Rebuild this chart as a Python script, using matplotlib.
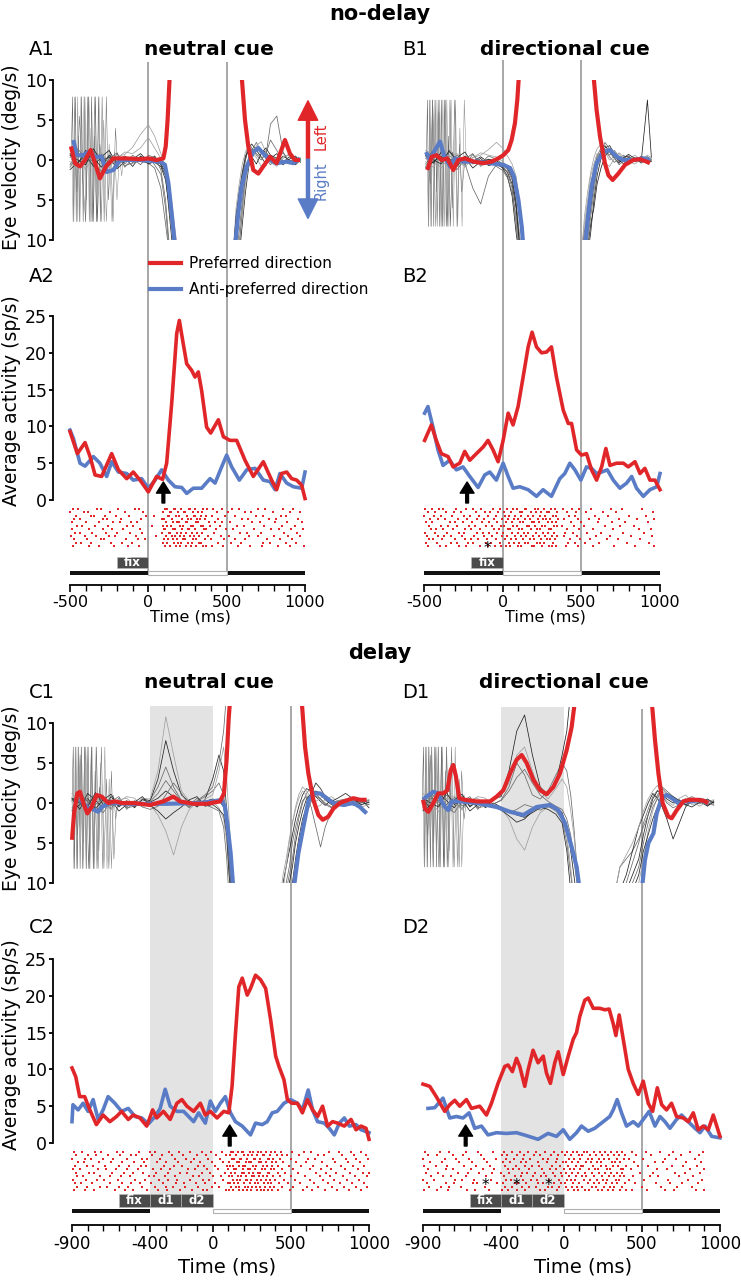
import matplotlib
matplotlib.use('Agg')
import matplotlib.pyplot as plt
from matplotlib.patches import Rectangle
from matplotlib.lines import Line2D

plt.rcParams['font.family'] = ['DejaVu Sans']

W, H = 741, 1280
RED = '#e1262a'
BLUE = '#5a7cc6'
VLINE = '#a0a0a0'
SHADE = '#e3e3e3'
BOX = '#4b4b4b'
GRAYS = ['#222222', '#6a6a6a', '#a0a0a0']

# ======================= DATA =======================
# ---- average activity (sp/s) ----
A_RED_T = [-500,-453,-404,-372,-340,-298,-234,-191,-138,-96,-53,0,53,91,117,149,181,198,219,245,277,298,319,340,372,398,447,479,521,564,617,670,734,787,819,851,883,915,947,979,1000]
A_RED_V = [9.3,6.3,7.8,5.9,3.4,3.2,6.3,4.1,2.9,3.8,2.7,1.1,3.2,2.8,5.0,13.1,22.6,24.4,21.7,18.5,17.6,16.7,17.4,14.9,9.9,9.1,10.9,8.6,8.1,8.1,5.4,3.2,5.2,2.7,1.4,3.6,3.8,2.9,2.7,2.0,0.2]
A_BLUE_T = [-500,-479,-436,-404,-351,-309,-266,-234,-191,-138,-96,-43,0,43,85,128,170,213,245,287,340,394,426,468,500,532,581,628,681,734,777,809,840,883,926,979,1000]
A_BLUE_V = [9.5,8.4,5.0,4.6,5.9,5.0,3.2,5.2,3.8,3.6,2.7,2.9,1.6,2.7,4.1,2.7,1.8,1.7,0.9,1.6,1.6,2.9,2.3,4.5,6.1,4.5,2.7,4.1,4.3,2.7,2.5,1.4,3.6,2.3,1.8,1.6,3.8]

B_RED_T = [-496,-453,-422,-390,-347,-315,-273,-241,-209,-167,-124,-93,-61,-29,3,35,66,98,130,162,187,215,247,279,310,342,385,417,438,470,501,533,565,597,629,656,682,724,767,798,841,873,904,936,968,1000]
B_RED_V = [8.1,10.2,8.1,6.3,5.9,4.5,5.0,6.6,5.4,6.3,7.2,8.1,6.8,5.2,8.1,11.8,10.2,12.7,16.7,20.8,22.8,20.8,20.0,20.1,20.8,16.7,12.2,10.4,10.4,6.8,6.1,6.3,4.1,2.7,4.5,7.0,4.7,5.0,5.0,4.5,5.2,3.6,4.3,2.7,2.7,1.4]
B_BLUE_T = [-496,-475,-443,-411,-379,-337,-294,-252,-209,-156,-114,-82,-40,3,35,66,109,162,215,257,310,363,395,427,459,497,533,565,597,629,665,703,745,788,820,851,894,936,979,1000]
B_BLUE_V = [11.8,12.7,9.9,6.8,4.7,5.4,4.1,4.5,3.2,1.7,3.4,3.8,2.7,5.0,3.2,1.6,1.8,1.4,0.5,1.4,0.5,2.9,3.6,5.0,4.1,2.7,4.5,4.3,3.6,3.8,4.1,2.7,1.6,2.3,3.2,1.6,0.5,1.4,1.8,3.6]

C_RED_T = [-900,-876,-851,-819,-786,-744,-701,-658,-615,-583,-540,-508,-465,-422,-384,-358,-315,-272,-229,-197,-165,-122,-79,-47,-15,28,71,103,124,146,167,189,221,242,274,306,339,371,403,424,456,478,506,542,574,606,639,671,703,735,767,799,842,885,917,949,981,1000]
C_RED_V = [10.2,9.0,6.3,6.3,4.5,2.5,3.8,2.9,3.6,4.3,3.2,3.8,3.4,2.3,4.5,3.4,4.3,3.2,5.4,5.9,5.0,4.3,5.4,3.8,4.3,3.4,4.3,4.1,7.7,14.9,21.2,22.4,20.1,21.0,22.8,22.2,21.0,16.7,11.8,10.4,8.6,5.9,5.4,5.4,4.1,5.9,4.5,3.6,5.0,2.3,2.9,2.7,2.3,3.2,1.8,2.3,2.0,0.5]
C_BLUE_T = [-900,-894,-861,-829,-797,-765,-733,-701,-669,-626,-583,-540,-497,-454,-411,-369,-336,-304,-272,-229,-186,-154,-122,-90,-47,-15,17,49,81,114,146,189,242,274,317,349,381,413,456,499,542,574,611,639,671,714,746,778,810,842,874,917,949,1000]
C_BLUE_V = [2.9,5.2,4.5,5.4,4.3,5.9,3.2,4.5,6.3,5.4,4.3,4.7,3.6,3.4,2.6,3.6,4.7,7.3,5.0,4.3,4.3,3.6,2.9,4.1,2.7,5.7,4.3,5.4,6.3,4.1,2.9,2.3,1.1,2.7,2.5,2.9,4.1,4.3,5.4,5.9,5.4,4.5,7.2,4.5,2.9,2.7,2.0,1.1,2.7,3.4,2.3,2.5,1.8,1.4]

D_RED_T = [-900,-857,-815,-761,-729,-697,-665,-622,-590,-537,-494,-462,-420,-377,-356,-328,-302,-281,-249,-228,-196,-164,-131,-110,-85,-57,-35,-3,29,61,82,103,135,157,189,231,263,291,317,334,355,381,413,445,477,509,541,569,599,627,658,690,722,765,797,829,861,893,925,957,1000]
D_RED_V = [8.0,7.7,6.3,4.3,5.2,5.8,5.0,5.9,4.7,5.0,3.8,5.4,8.1,10.4,10.6,9.7,11.5,10.4,7.7,9.9,12.6,10.9,11.8,9.5,8.1,10.9,12.4,9.3,11.8,14.1,15.0,17.2,19.4,19.7,18.3,18.3,18.1,18.2,16.2,14.6,17.4,14.1,10.0,8.1,6.6,8.4,5.4,4.3,7.5,5.2,4.5,5.4,3.6,3.4,2.9,4.1,1.8,2.3,1.8,3.8,0.9]
D_BLUE_T = [-868,-825,-772,-729,-687,-644,-605,-569,-526,-484,-430,-366,-302,-238,-164,-100,-46,-3,39,82,114,157,199,253,295,317,342,370,402,445,477,509,547,584,616,648,680,722,754,797,840,872,904,947,1000]
D_BLUE_V = [4.7,4.8,6.1,3.4,3.6,3.4,4.1,2.0,2.3,1.1,1.4,1.3,1.4,1.0,0.5,1.3,0.9,1.8,0.5,1.4,2.3,1.6,2.0,2.9,3.6,4.5,5.9,4.1,2.3,2.9,2.3,3.2,4.3,2.3,3.6,2.9,2.0,3.2,3.8,2.9,2.0,1.4,2.3,0.9,0.7]

# ---- mean eye velocity (deg/s), before and after the saccade gap ----
A_EYE_RED_L_T = [-494,-468,-436,-404,-368,-340,-309,-270,-223,-138,-53,0,53,96,111,123,140]
A_EYE_RED_L_V = [1.7,-0.4,-0.8,0,1.25,-0.4,-2.3,-0.8,0.2,0.2,0.1,0.2,0,0.2,1.7,5,12]
A_EYE_RED_R_T = [590,617,638,670,702,734,777,819,872,904,936,968]
A_EYE_RED_R_V = [12,5,1.7,-1.25,-1.7,-0.8,0.4,-0.4,2.5,0.8,0,0]
A_EYE_BLUE_L_T = [-479,-457,-415,-383,-340,-298,-266,-223,-181,-53,74,106,128,149,176]
A_EYE_BLUE_L_V = [2.5,0.6,0.6,1.0,0.4,0.4,-1.5,-1.25,0,0,-0.2,-0.6,-2.9,-6.7,-12]
A_EYE_BLUE_R_T = [548,574,596,628,670,702,734,777,819,883,926,968]
A_EYE_BLUE_R_V = [-12,-6.7,-3.3,-0.8,1.0,1.5,0.8,0,-0.4,-0.2,-0.4,0.2]

B_EYE_RED_L_T = [-479,-451,-420,-388,-352,-314,-282,-239,-186,-123,-70,-28,4,36,57,78,93,108]
B_EYE_RED_L_V = [-1.25,0.4,0.6,0,0.2,-1.25,0,0.2,-0.2,-0.4,-0.2,0.2,0.6,1.25,2.5,4.6,7.5,12]
B_EYE_RED_R_T = [571,597,619,650,672,699,735,778,830,873,915,936]
B_EYE_RED_R_V = [12,6.25,2.9,-0.4,-1.9,-2.5,-1.7,-0.6,0,0.1,-0.2,-0.4]
B_EYE_BLUE_L_T = [-487,-462,-430,-398,-373,-335,-303,-250,-165,-81,4,47,72,100,121,136]
B_EYE_BLUE_L_V = [1.0,0,1.25,2.3,0.6,-0.8,0.2,-0.2,-0.2,-0.4,-0.6,-1.0,-2.1,-5,-8.3,-12]
B_EYE_BLUE_R_T = [518,544,566,597,640,682,725,767,830,894,936]
B_EYE_BLUE_R_V = [-12,-6.7,-3.3,-0.4,1.0,1.25,0.4,0,0,0.2,0]

C_EYE_RED_L_T = [-900,-887,-866,-849,-828,-802,-774,-742,-710,-668,-625,-582,-508,-401,-316,-252,-209,-124,-39,47,72,89,102,115]
C_EYE_RED_L_V = [-4.6,-1.3,1.2,1.4,0,-1.3,-0.5,1.0,0.8,0,0.2,0,0,-0.25,0.2,0.8,0.2,-0.1,-0.1,0.2,1.2,5.4,10.4,14]
C_EYE_RED_R_T = [565,591,612,644,676,704,740,772,814,868,900,942,985]
C_EYE_RED_R_V = [14,7,3.7,0.4,-1.5,-2.1,-1.7,-0.7,0,0.4,0.6,0.4,0.4]
C_EYE_BLUE_L_T = [-849,-806,-774,-732,-710,-657,-508,-294,-81,4,57,79,96,115,137]
C_EYE_BLUE_L_V = [0.4,-0.5,-0.7,-1.1,-0.5,0,-0.1,-0.1,0,0.2,0.4,-0.5,-3.0,-6.3,-12]
C_EYE_BLUE_R_T = [510,548,580,612,644,687,729,772,836,900,942,985]
C_EYE_BLUE_R_V = [-12,-6.3,-3.0,0.2,1.2,1.2,0.6,0,-0.25,0,-0.5,-1.3]

D_EYE_RED_L_T = [-900,-887,-866,-834,-802,-770,-744,-723,-706,-689,-668,-631,-557,-471,-429,-386,-343,-301,-269,-237,-194,-151,-109,-66,-24,19,51,80]
D_EYE_RED_L_V = [0.4,-0.7,-1.1,0,1.2,1.2,1.6,4.1,4.75,3.3,0.6,0.4,0.2,0.2,0.8,1.6,3.7,5.4,6.0,5.0,2.9,1.6,1.1,2.0,3.7,6.6,9.5,14]
D_EYE_RED_R_T = [558,584,606,633,669,691,723,765,808,851,893,925]
D_EYE_RED_R_V = [14,7.9,3.7,0,-1.7,-1.9,-0.9,0.2,0.4,0.4,0.3,0]
D_EYE_BLUE_L_T = [-900,-877,-834,-802,-781,-759,-738,-717,-663,-557,-429,-343,-258,-173,-88,-34,8,51,83,110]
D_EYE_BLUE_L_V = [0.4,0.8,1.4,1.2,0.2,-0.5,-0.9,0.2,0.2,0,-0.5,-1.1,-1.5,-0.5,-0.25,-0.9,-2.5,-5.5,-8,-12]
D_EYE_BLUE_R_T = [494,520,542,574,595,627,659,691,734,776,819,872,925]
D_EYE_BLUE_R_V = [-12,-7.1,-5,-3.8,-1.3,0.6,1.0,0.6,0,0.2,0.2,0.4,0]

# ---- single-trial eye traces (thin) ----
A_TR_L_T = [-500,-450,-400,-350,-300,-250,-200,-150,-100,-50,0,40,80,110,135,160,185]
A_TR_L = [
    [0.8,-0.5,1.2,0.3,-0.9,0.6,-0.2,0.5,-0.3,0.4,0.2,-0.3,-0.8,-2.5,-6,-10,-12],
    [-0.6,0.9,-0.4,1.1,0.2,-0.7,0.8,-0.5,0.6,-0.2,-0.4,-1.0,-3.5,-8,-12,-12,-12],
    [1.5,0.2,-1.2,0.5,0.9,-0.3,0.2,1.0,0.8,1.5,2.8,1.5,0.2,-1,-4,-9,-12],
    [-1.2,-0.3,0.6,-0.8,0.4,1.2,-0.6,0.3,-0.8,0.5,-0.5,-0.2,-0.5,-1.5,-5,-10,-12],
    [0.3,1.4,0.1,-0.5,-1.4,0.2,0.9,-0.9,0.2,-0.6,0.6,0.3,-1.2,-5,-11,-12,-12],
    [-0.2,-1.1,0.8,0.6,0.1,-1.0,0.4,0.7,1.6,3.2,4.4,3,0.8,-0.8,-3,-7,-11],
    [0.6,0.0,-0.6,1.4,-0.2,0.4,-1.1,-0.2,0.1,0.8,-0.2,0.5,-0.6,-2,-7,-12,-12],
    [-0.9,0.7,0.3,-0.2,0.7,-0.5,0.3,-0.7,-0.4,-0.1,0.4,-0.6,-1.8,-6,-12,-12,-12],
]
A_TR_R_T = [540,560,580,600,620,640,660,690,720,750,780,820,860,900,940,970]
A_TR_R = [
    [-12,-9,-5,-2,0,1.5,2.0,1.2,0.4,-0.5,0.2,0.8,-0.3,0.4,0,0.2],
    [-12,-12,-9,-5,-2,0,1.2,2.2,1.0,0.2,-0.6,0.3,0.9,-0.2,0.3,0],
    [-12,-6,-3,-0.5,1.0,1.8,1.0,0.3,-0.8,-0.2,0.6,-0.5,0.2,0.8,-0.4,0.1],
    [-12,-12,-12,-8,-4,-1,0.8,1.6,1.2,1.0,0.2,-0.4,0.5,0.0,-0.6,0],
    [-12,-10,-6,-2.5,0.2,2.2,1.5,0.6,0.0,0.8,2.5,1.2,-0.2,-0.5,0.3,-0.2],
    [-12,-12,-10,-7,-3,-0.5,0.5,1.8,2.3,1.0,-0.3,-0.8,0.4,0.6,-0.1,0.3],
    [-12,-7,-4,-1.5,0.5,1.2,0.4,-0.5,0.8,1.5,0.6,0.2,-0.6,0.1,0.5,-0.3],
    [-12,-12,-11,-6,-2,0.4,1.4,0.8,0.3,0.5,4.5,5.5,1.0,-0.3,0.2,0],
]
B_TR_L_T = [-490,-440,-390,-340,-290,-240,-190,-140,-90,-40,0,30,60,85,105,125,145]
B_TR_L = [
    [0.6,-0.4,1.0,0.2,-0.8,0.5,-0.2,0.4,-0.3,-0.6,-0.9,-1.5,-3,-6,-10,-12,-12],
    [-0.5,0.8,-0.3,1.0,0.1,-0.6,0.7,-0.4,0.5,0.1,-0.5,-1.2,-2.5,-5,-9,-12,-12],
    [1.2,0.1,-1.0,0.4,0.8,-0.2,0.3,0.9,0.6,0.4,-0.2,-0.8,-2,-4,-7,-10,-12],
    [-1.0,-0.2,0.5,-0.7,0.3,1.0,-0.5,0.2,-0.7,-0.4,-1.0,-2.0,-4.5,-9,-12,-12,-12],
    [0.2,1.2,0.1,-0.4,-1.2,0.1,0.8,-0.8,0.1,-0.8,-1.3,-2.2,-4,-7,-11,-12,-12],
    [-0.2,-0.9,0.7,0.5,0.1,-0.9,0.3,0.6,1.3,2.2,1.5,0.5,-0.5,-2,-5,-9,-12],
    [0.5,0.0,-0.5,1.2,-0.2,0.3,-1.0,-0.2,0.1,-0.1,-0.6,-1.0,-2.2,-5.5,-10,-12,-12],
    [-0.8,0.6,0.3,-0.2,0.6,-0.4,-3.5,-5.5,-2.0,-0.6,-0.8,-1.6,-3.5,-8,-12,-12,-12],
]
B_TR_R_T = [500,520,540,560,580,600,625,650,680,710,740,770,800,840,880,920,945]
B_TR_R = [
    [-12,-12,-9,-6,-3,-0.5,1.2,1.8,1.0,0.2,-0.4,0.3,0.5,-0.2,0.2,0.4,0],
    [-12,-10,-7,-4,-1.5,0.5,1.5,1.2,0.4,-0.3,0.2,0.6,-0.2,0.3,-0.4,0.1,0.3],
    [-12,-7,-4,-1.5,0.3,1.4,2.0,1.0,0.0,0.5,0.8,-0.2,0.1,0.6,0.0,-0.3,0.2],
    [-12,-12,-12,-9,-5,-2,0.2,1.5,1.8,0.8,0.0,-0.5,0.3,0.0,0.4,0.2,-0.2],
    [-12,-12,-10,-7,-4,-1,0.8,1.3,0.6,1.2,0.4,0.0,-0.6,0.2,0.3,-0.5,0],
    [-12,-8,-5,-2,-0.5,0.8,0.5,-0.4,-0.8,0.2,0.9,0.4,-0.2,-0.5,0.1,0.6,0.3],
    [-12,-12,-11,-8,-6,-3,-1,0.5,1.2,0.6,-0.2,0.3,0.7,0.2,-0.3,7.5,0.4],
    [-12,-9,-6,-3,-1,0.3,1.0,2.2,1.4,0.3,-0.6,-0.1,0.4,-0.2,0.5,0.0,-0.2],
]
C_TR_L_T = [-900,-850,-800,-750,-700,-650,-600,-550,-500,-450,-400,-350,-300,-250,-200,-150,-100,-50,0,40,70,90,105,120,135]
C_TR_L = [
    [0.5,-0.8,1.2,0.3,-0.6,0.8,-0.4,0.2,-0.5,0.4,0.1,0.6,1.5,0.8,-0.2,0.3,-0.4,0.2,0.5,0.3,-0.5,-3,-7,-12,-12],
    [-0.6,0.9,-0.3,1.0,0.2,-0.7,0.6,-0.5,0.3,-0.2,0.4,2.0,4.5,2.0,0.3,-0.5,0.2,0.8,1.5,2.5,1.0,-2,-6,-11,-12],
    [1.2,0.2,-1.1,0.5,0.9,-0.3,0.2,0.8,0.6,-0.4,-0.2,-1.5,-3.5,-6.5,-3,-0.8,0.1,-0.3,0.2,-0.6,-2,-5,-9,-12,-12],
    [-1.0,-0.2,0.6,-0.7,0.4,1.1,-0.5,0.3,-0.6,0.5,0.3,3.0,7.8,4.0,1.0,0.2,-0.5,0.4,3,6,4,-1,-5,-10,-12],
    [0.3,1.3,0.1,-0.5,-1.2,0.2,0.8,-0.8,0.2,-0.5,-0.8,-0.4,1.0,2.5,1.2,-0.3,0.6,-0.2,-0.6,-1,-3,-7,-12,-12,-12],
    [-0.2,-1.0,0.7,0.6,0.1,-0.9,0.4,0.6,-0.3,0.6,0.5,4.0,10.8,6.0,1.5,0.2,-0.3,0.5,1.0,4,7,3,-2,-8,-12],
    [0.6,0.0,-0.5,1.3,-0.2,0.4,-1.0,-0.2,0.1,0.8,-0.3,-1.0,-2.0,-1.2,-0.5,0.4,0.8,-0.4,-0.2,-0.8,-1.5,-4,-9,-12,-12],
    [-0.8,0.6,0.3,-0.2,0.7,-0.4,0.3,-0.6,-0.4,-0.1,0.2,1.2,2.8,1.5,0.2,-0.6,0.3,1.0,2.0,5,9,14,14,14,14],
]
C_TR_R_T = [430,450,470,490,510,530,550,575,600,630,660,690,720,760,800,850,900,950,1000]
C_TR_R = [
    [-12,-10,-8,-6,-4,-2,-0.5,1.0,1.8,1.5,0.8,0.2,-0.3,0.4,0.0,-0.4,0.3,0.1,-0.2],
    [-12,-12,-11,-9,-7,-4,-2,0.0,1.2,2.0,1.2,0.5,0.0,-0.5,0.3,0.5,-0.2,0.4,0.0],
    [-12,-9,-7,-4.5,-2.5,-0.8,0.5,1.5,1.0,0.3,-0.5,-0.3,0.5,0.8,0.2,-0.2,0.6,-0.3,0.2],
    [-12,-12,-12,-12,-10,-7,-4.5,-2,-0.5,1.0,1.5,1.2,0.4,-0.2,-0.4,0.2,0.0,0.5,-0.6],
    [-12,-12,-10,-8,-5,-3,-1.5,0.3,0.8,-0.5,-3,-5.5,-3,-1,0.2,0.4,-0.2,0.0,0.3],
    [-12,-11,-8,-5,-2.5,-0.5,1.0,2.0,1.5,0.6,0.2,0.6,1.0,0.3,-0.3,0.1,0.4,-0.5,-0.2],
    [-12,-12,-12,-10,-8,-5,-3,-1,0.5,1.2,2.5,1.8,0.8,0.2,0.6,1.2,0.5,-0.2,0.1],
    [-12,-12,-12,-12,-12,-9,-6,-3.5,-1.5,0.2,0.9,0.5,-0.2,-0.6,-0.1,0.3,-0.3,0.2,0.4],
]
D_TR_L_T = [-900,-850,-800,-750,-700,-650,-600,-550,-500,-450,-400,-350,-300,-250,-200,-150,-100,-50,-10,20,45,65,85,105,125]
D_TR_L = [
    [0.5,-0.8,1.2,0.3,-0.6,0.8,-0.4,0.2,-0.5,0.0,-0.5,-1.0,-1.5,-1.8,-1.2,-0.6,-0.2,-0.5,-1.2,-3,-6,-9,-12,-12,-12],
    [-0.6,0.9,-0.3,1.0,0.2,-0.7,0.6,-0.5,0.3,-0.2,0.4,2.0,5.0,3.5,1.0,0.5,1.5,3.5,5.0,4,1,-3,-8,-12,-12],
    [1.2,0.2,-1.1,0.5,0.9,-0.3,0.2,0.8,0.6,-0.4,-0.6,-2.0,-4.5,-5.9,-3.0,-1.2,-0.5,-0.8,-1.5,-4,-8,-12,-12,-12,-12],
    [-1.0,-0.2,0.6,-0.7,0.4,1.1,-0.5,0.3,-0.6,0.5,0.8,4.0,9.0,11.0,6.0,2.0,1.0,2.5,6.0,9,14,14,14,14,14],
    [0.3,1.3,0.1,-0.5,-1.2,0.2,0.8,-0.8,0.2,-0.5,-0.8,-1.2,-0.8,-0.2,-0.5,-0.9,-0.4,-1.0,-2.0,-5,-9,-12,-12,-12,-12],
    [-0.2,-1.0,0.7,0.6,0.1,-0.9,0.4,0.6,-0.3,0.6,1.0,2.5,6.0,7.0,4.0,1.5,0.5,1.8,3.0,2,-1,-4,-8,-12,-12],
    [0.6,0.0,-0.5,1.3,-0.2,0.4,-1.0,-0.2,0.1,-0.3,-0.9,-1.6,-2.4,-2.0,-1.0,-0.5,-0.8,-1.4,-2.5,-6,-11,-12,-12,-12,-12],
    [-0.8,0.6,0.3,-0.2,0.7,-0.4,0.3,-0.6,-0.4,-0.1,0.3,1.5,3.2,4.2,2.5,1.0,0.2,-0.4,-0.8,-2,-4,-7,-10,-12,-12],
]
D_TR_R_T = [320,360,400,440,480,510,540,570,600,630,660,700,740,780,820,870,920,960]
D_TR_R = [
    [-12,-12,-11,-9,-7,-4,-1.5,0.5,1.5,1.2,0.5,0.0,0.4,-0.2,0.2,0.5,-0.3,0.1],
    [-12,-8,-7,-6,-4.5,-3,-1.5,0.0,1.0,1.8,1.2,0.3,-0.4,0.2,0.5,-0.1,0.3,0.0],
    [-12,-12,-12,-12,-10,-7,-3.5,-1.0,0.8,1.5,1.0,0.4,0.0,0.6,-0.2,0.0,0.4,-0.2],
    [-12,-11,-9,-6,-3,-1.5,0.0,1.2,0.6,-0.5,-2.0,-4.5,-2.5,-0.5,0.3,0.2,-0.4,0.2],
    [-12,-12,-12,-10,-8,-5,-2.5,-0.5,0.5,2.0,1.5,0.8,0.2,-0.3,0.4,0.6,0.1,-0.3],
    [-12,-8,-6.5,-5,-3,-1.0,0.5,1.5,2.2,1.0,0.2,-0.3,0.6,1.0,0.2,-0.4,0.2,0.4],
    [-12,-12,-12,-11,-9,-6,-4,-2,-0.5,0.6,1.2,0.8,0.3,-0.2,-0.5,0.1,0.5,0.0],
    [-12,-12,-10,-7.5,-5,-2.5,-0.8,0.8,1.6,0.9,0.0,-0.6,-0.2,0.4,0.8,0.2,-0.2,0.3],
]
# noisy early traces (time, value)
A_NOISE = [
    ([-492,-484,-476,-466,-455,-447,-437,-426,-416,-405,-396,-384,-372,-362,-350,-338,-325,-310,-290,-270],
     [0,7.9,-7.7,7.9,-7.7,3,-7.7,7.9,-7.7,7.9,-5,7.9,-7.7,7.9,-7.7,7.9,-7.7,2,-1.5,0.3]),
    ([-488,-480,-471,-460,-451,-441,-430,-420,-410,-400,-388,-377,-366,-355,-343,-330,-315,-300,-285,-268,-250,-232,-215,-200,-185,-170,-160],
     [0.5,-7.7,7.9,-7.7,7.9,-7.7,7.9,-3,7.9,-7.7,7.9,-7.7,4,-7.7,7.9,-7.7,7.9,-7.7,5,-7.7,2,-7.7,1,-5,0.5,-2,0]),
    ([-470,-455,-440,-420,-400,-380,-360,-345,-330,-318,-306,-295,-282,-268,-255,-240,-225,-210,-195,-180],
     [0,-4,5.5,-2,-7.7,7.9,-7.7,3,-7.7,7.9,-7.7,7.9,-7.7,7.9,-5,1,-7.7,4,-1,0]),
]
B_NOISE = [
    ([-485,-478,-470,-462,-455,-447,-438,-430,-420,-410,-400,-390,-380,-368,-356,-344,-332,-320,-300],
     [0,7.5,-8.3,7.5,-8.3,7.5,-8.3,7.5,-4,7.5,-8.3,7.5,-8.3,7.5,-8.3,3,-8.3,1,0]),
    ([-480,-472,-464,-455,-445,-435,-424,-414,-403,-392,-380,-368,-355,-342,-328,-314,-300,-286,-272,-258,-244,-232],
     [0.5,-8.3,7.5,-8.3,7.5,-2,7.5,-8.3,7.5,-8.3,7.5,-8.3,7.5,-8.3,7.5,-8.3,7.5,-8.3,4,-8.3,7.5,0]),
    ([-475,-460,-445,-425,-405,-385,-365,-350,-335,-320,-305,-290,-275,-260,-245,-232],
     [0,-3,7.5,-8.3,6,-8.3,7.5,-8.3,7.5,-6,7.5,-8.3,2,-4,-1,0]),
]
C_NOISE = [
    ([-900,-892,-884,-875,-866,-857,-848,-839,-829,-819,-809,-798,-787,-776,-764,-752,-740,-725,-710,-690],
     [0,7,-8.2,7,-8.2,7,-8.2,7,-5,7,-8.2,7,-8.2,7,-8.2,4,-8.2,2,-1,0]),
    ([-896,-888,-879,-870,-861,-851,-841,-831,-820,-809,-797,-785,-772,-759,-746,-732,-718,-704,-690,-676,-662,-648,-634,-620,-606],
     [0.5,-8.2,7,-8.2,7,-3,7,-8.2,7,-8.2,7,-8.2,7,-8.2,7,-8.2,5,-8.2,7,-8.2,3,-8.2,1,-2,0]),
    ([-880,-864,-848,-830,-812,-794,-776,-760,-744,-728,-712,-696,-680,-664,-648,-632,-618,-604],
     [0,-4,6,-8.2,7,-8.2,7,-8.2,7,-6,7,-8.2,3,-8.2,4,-7,-1,0]),
]
D_NOISE = [
    ([-905,-897,-889,-880,-871,-862,-853,-844,-834,-824,-814,-803,-792,-781,-769,-757,-745,-730,-715,-695],
     [0,7,-8,7,-8,7,-8,7,-5,7,-8,7,-8,7,-8,4,-8,2,-1,0]),
    ([-900,-892,-883,-874,-865,-855,-845,-835,-824,-813,-801,-789,-776,-763,-750,-736,-722,-708,-694,-680,-666,-652,-638,-624],
     [0.5,-8,7,-8,7,-3,7,-8,7,-8,7,-8,7,-8,7,-8,5,-8,7,-8,3,-8,1,0]),
    ([-885,-869,-853,-835,-817,-799,-781,-765,-749,-733,-717,-701,-685,-669,-653,-637,-624],
     [0,-4,6,-8,7,-8,7,-8,7,-6,7,-8,3,-8,4,-2,0]),
]

# ---- spike rasters (ms), one list per trial ----
A_RASTER = [
    [-483,-447,-329,-301,-196,-88,-61,104,117,163,171,208,259,266,301,352,377,412,470,533,581,702,746,861,925],
    [-497,-412,-386,-243,-150,-31,92,139,146,188,227,233,284,319,342,438,507,619,655,794,902,968],
    [-461,-368,-350,-277,-209,-122,-14,36,125,129,176,197,245,290,296,337,369,404,489,552,688,731,845,879],
    [-475,-433,-292,-264,-177,-47,86,101,151,213,218,252,273,310,328,361,447,599,635,770,818,957],
    [-490,-398,-318,-225,-183,-108,-72,111,160,181,194,239,247,306,315,389,426,468,521,664,712,809,888,980],
    [-455,-421,-341,-257,-134,-96,23,95,122,143,202,220,270,283,334,347,393,455,569,608,741,853,934],
    [-486,-376,-289,-232,-161,-52,99,108,158,168,215,256,262,299,356,371,431,494,543,676,785,831,911,988],
    [-468,-439,-357,-271,-198,-117,-38,89,133,137,186,206,241,277,313,345,416,587,628,719,868,949],
    [-494,-405,-335,-249,-215,-79,49,115,148,172,199,230,268,291,325,382,461,512,643,698,801,893,971],
    [-472,-391,-305,-282,-141,-65,-21,103,127,155,183,224,236,287,303,359,401,484,556,615,757,840,918],
    [-459,-427,-363,-238,-170,-102,94,119,166,191,211,250,279,322,339,442,527,593,733,778,876,942],
    [-480,-381,-312,-219,-129,-57,107,141,178,203,243,275,307,349,366,408,477,574,650,724,826,906,995],
]
B_RASTER = [
    [-492,-451,-402,-377,-296,-231,-187,-140,-62,-18,29,64,92,139,151,203,227,262,309,331,382,441,488,562,689,758,887],
    [-476,-428,-359,-310,-268,-172,-113,-79,-27,8,51,108,126,177,214,246,283,297,344,407,466,531,640,721,955],
    [-499,-437,-390,-321,-244,-208,-151,-95,-41,17,43,81,117,163,190,239,270,318,339,420,459,584,667,804,908],
    [-463,-414,-368,-282,-225,-160,-121,-57,-6,36,73,99,144,171,222,255,276,301,351,393,478,546,615,737,852,963],
    [-485,-447,-336,-300,-253,-193,-134,-88,-33,22,58,112,132,185,198,233,289,313,337,432,497,605,698,779,921],
    [-470,-395,-346,-289,-217,-178,-104,-70,-12,11,67,88,154,168,206,251,266,324,348,374,452,517,653,745,836],
    [-458,-421,-381,-314,-237,-199,-145,-52,-24,33,47,103,121,180,219,240,292,306,411,484,571,702,868,942],
    [-495,-433,-352,-275,-247,-166,-127,-84,-37,4,62,95,137,158,209,259,286,329,399,446,538,627,764,899],
    [-481,-408,-372,-326,-261,-183,-117,-66,-3,26,77,116,148,193,229,272,311,346,387,470,596,681,813,946],
    [-467,-441,-385,-305,-238,-204,-155,-98,-45,14,55,85,129,174,201,244,279,299,334,426,491,552,660,732,875],
    [-489,-417,-331,-293,-221,-187,-109,-74,-15,40,70,106,141,161,216,236,263,321,415,462,524,611,790,928],
    [-474,-400,-362,-279,-230,-146,-91,-49,-9,20,45,97,119,184,197,249,294,316,341,403,480,577,707,842,960],
]
C_RASTER = [
    [-889,-836,-751,-713,-611,-574,-470,-402,-371,-279,-215,-148,-66,-11,58,118,131,164,189,197,236,261,288,307,344,372,398,437,506,583,631,742,806,887,951],
    [-872,-797,-744,-668,-593,-520,-488,-391,-322,-263,-190,-103,-43,24,83,109,146,152,203,228,249,282,319,331,365,410,446,477,552,676,713,827,903,982],
    [-898,-815,-778,-702,-637,-551,-455,-418,-340,-238,-171,-120,-29,47,124,139,177,183,219,262,271,301,352,359,388,429,498,612,655,769,851,920,996],
    [-861,-823,-729,-651,-582,-502,-437,-356,-296,-222,-137,-80,-5,69,104,157,170,214,233,244,295,312,338,381,403,451,534,597,702,784,866,942],
    [-884,-806,-765,-688,-602,-538,-461,-425,-311,-250,-199,-96,-56,12,91,112,127,168,192,208,256,277,325,346,377,420,489,568,641,731,818,898,971],
    [-893,-849,-734,-680,-619,-545,-479,-384,-330,-271,-157,-112,-35,35,101,135,149,196,224,240,268,316,334,370,394,441,517,620,694,757,845,929],
    [-877,-790,-757,-643,-568,-511,-446,-363,-288,-207,-164,-71,-18,76,115,142,188,202,231,258,289,305,357,362,415,462,543,660,725,792,878,961,999],
    [-866,-830,-719,-660,-588,-529,-409,-377,-305,-244,-128,-88,3,52,107,121,159,181,215,252,264,298,322,349,386,433,503,589,687,748,835,909,986],
    [-895,-811,-740,-695,-607,-495,-430,-345,-284,-226,-143,-59,-26,64,128,153,175,210,222,247,283,310,341,367,400,455,526,625,706,773,859,937],
    [-880,-842,-771,-656,-577,-525,-465,-397,-316,-232,-184,-108,-48,18,95,110,137,162,199,237,270,293,327,353,375,424,483,561,648,737,812,891,967],
    [-869,-802,-723,-675,-598,-541,-449,-368,-300,-255,-176,-92,-2,40,119,150,167,206,229,251,279,302,337,364,391,444,512,604,671,761,838,916,990],
    [-890,-819,-761,-628,-560,-507,-421,-350,-292,-211,-133,-64,-38,86,103,133,171,192,217,242,286,308,330,356,380,418,494,576,637,718,797,871,948],
]
D_RASTER = [
    [-886,-793,-731,-622,-547,-452,-381,-330,-281,-227,-176,-118,-61,-12,21,58,84,131,149,197,231,266,301,338,371,437,529,618,702,811,893],
    [-871,-809,-706,-646,-530,-396,-362,-296,-255,-190,-151,-83,-35,9,44,97,118,168,209,248,283,319,356,394,462,560,676,749,866],
    [-897,-762,-689,-604,-512,-433,-370,-318,-262,-214,-132,-99,-40,32,69,106,156,181,225,259,293,344,385,421,505,645,720,839],
    [-855,-781,-668,-589,-491,-389,-342,-271,-239,-167,-108,-52,-4,16,50,89,140,174,214,241,309,329,362,448,583,634,783,880],
    [-892,-817,-744,-639,-561,-470,-375,-305,-247,-201,-158,-75,-23,27,77,112,125,188,236,272,314,349,398,474,541,691,763,852],
    [-866,-750,-711,-595,-519,-443,-358,-324,-287,-219,-141,-90,-47,3,38,64,102,161,203,219,278,295,367,380,429,598,659,807,897],
    [-880,-801,-677,-613,-539,-458,-399,-349,-268,-233,-184,-125,-68,-17,12,55,94,137,178,229,262,305,341,374,489,570,712,774,873],
    [-848,-773,-720,-628,-500,-384,-310,-276,-196,-145,-113,-56,-9,35,81,120,144,192,244,287,322,358,389,441,552,603,736,825],
    [-899,-828,-697,-652,-574,-464,-366,-336,-259,-207,-172,-95,-30,24,47,74,129,170,211,252,276,334,353,415,517,667,795,888],
    [-874,-755,-701,-583,-553,-426,-391,-314,-291,-243,-163,-130,-64,-20,7,61,99,153,195,223,270,312,339,393,456,591,682,758,860],
    [-861,-788,-732,-660,-506,-378,-328,-264,-222,-180,-102,-72,-27,18,52,86,115,184,206,257,298,325,376,498,624,728,818],
    [-893,-812,-738,-617,-567,-478,-395,-354,-300,-250,-154,-120,-44,29,66,91,136,163,219,246,281,317,363,399,434,536,650,705,846,899],
]

# ---- task epochs ----
A_BOXES = [('fix', -200, 0)]
B_BOXES = [('fix', -200, 0)]
C_BOXES = [('fix', -600, -400), ('d1', -400, -200), ('d2', -200, 0)]
D_BOXES = [('fix', -600, -400), ('d1', -400, -200), ('d2', -200, 0)]
B_STARS = [-100]
D_STARS = [-500, -300, -100]
TOP_BAR_BLACK = [(-500, 0), (500, 1000)]
TOP_BAR_WHITE = [(0, 500)]
BOT_BAR_BLACK = [(-900, -400), (500, 1000)]
BOT_BAR_WHITE = [(0, 500)]
TOP_VLINES = [0, 500]
BOT_VLINES = [500]
DELAY_SPAN = (-400, 0)
A_ARROW_T, B_ARROW_T, C_ARROW_T, D_ARROW_T = 96, -226, 109, -627
TOP_XTICKS = [-500, 0, 500, 1000]
BOT_XTICKS = [-900, -400, 0, 500, 1000]

# ======================= LAYOUT =======================
fig = plt.figure(figsize=(W / 100, H / 100), dpi=100)

COLS = {'A': (-500, 1000, 70, 305), 'B': (-500, 1000, 424, 660),
        'C': (-900, 1000, 72, 369), 'D': (-900, 1000, 423, 720)}


def make_axes(col, top, bot, left=None, right=None):
    t0, t1, p0, p1 = COLS[col]
    s = (p1 - p0) / (t1 - t0)
    if left is None:
        left = p0 - 18
    if right is None:
        right = p1 + 18
    ax = fig.add_axes([left / W, 1 - bot / H, (right - left) / W, (bot - top) / H])
    ax.set_xlim(t0 + (left - p0) / s, t0 + (right - p0) / s)
    ax.patch.set_visible(False)
    for sp in ax.spines.values():
        sp.set_visible(False)
    ax.set_xticks([])
    ax.set_yticks([])
    return ax


def overlay(col, vlines, vtop, vbot, shade=None):
    ax = make_axes(col, 0, H, left=COLS[col][2] - 25, right=COLS[col][3] + 25)
    ax.set_ylim(H, 0)
    if shade is not None:
        t0, t1, y0, y1 = shade
        ax.add_patch(Rectangle((t0, y0), t1 - t0, y1 - y0, facecolor=SHADE, edgecolor='none'))
    ax.vlines(vlines, vtop, vbot, color=VLINE, lw=1.3)
    return ax


def eye_panel(col, y10, ym10, clip_top, red, blue, trl, trr, noise, show_y):
    ppu = (ym10 - y10) / 20.0
    ax = make_axes(col, clip_top, ym10, left=53 if show_y else None, right=COLS[col][3] + 40)
    ax.set_ylim(-10, 10 + (y10 - clip_top) / ppu)
    for i, (t, v) in enumerate(noise):
        ax.plot(t, v, color=['#5a5a5a', '#8c8c8c', '#707070'][i % 3], lw=0.35)
    tlt, tl = trl
    for i, v in enumerate(tl):
        ax.plot(tlt, v, color=GRAYS[i % 3], lw=0.55)
    trt, tr = trr
    for i, v in enumerate(tr):
        ax.plot(trt, v, color=GRAYS[i % 3], lw=0.55)
    for t, v in blue:
        ax.plot(t, v, color=BLUE, lw=3.0, solid_capstyle='butt')
    for t, v in red:
        ax.plot(t, v, color=RED, lw=3.0, solid_capstyle='butt')
    if show_y:
        ax.spines['left'].set_visible(True)
        ax.spines['left'].set_bounds(-10, 10)
        ax.spines['left'].set_linewidth(1.3)
        ax.set_yticks([-10, -5, 0, 5, 10])
        ax.set_yticklabels(['10', '5', '0', '5', '10'])
        ax.tick_params(axis='y', direction='out', length=3, width=1.3, pad=1.5, labelsize=12.5)
    return ax


def act_panel(col, y25, y0, red, blue, arrow_t, show_y):
    ax = make_axes(col, y25, y0, left=53 if show_y else None)
    ax.set_ylim(0, 25)
    ax.plot(blue[0], blue[1], color=BLUE, lw=2.6, clip_on=False)
    ax.plot(red[0], red[1], color=RED, lw=2.6, clip_on=False)
    ppu = (y0 - y25) / 25.0
    ax.annotate('', xy=(arrow_t, 18 / ppu), xytext=(arrow_t, -3 / ppu),
                arrowprops=dict(facecolor='black', edgecolor='black', width=2.0,
                                headwidth=10, headlength=8, shrink=0),
                annotation_clip=False)
    if show_y:
        ax.spines['left'].set_visible(True)
        ax.spines['left'].set_bounds(0, 25)
        ax.spines['left'].set_linewidth(1.3)
        ax.set_yticks([0, 5, 10, 15, 20, 25])
        ax.tick_params(axis='y', direction='out', length=3, width=1.3, pad=1.5, labelsize=12.5)
    return ax


def raster_panel(col, top, bot, rows):
    ax = make_axes(col, top, bot)
    ax.set_ylim(len(rows) - 0.5, -0.5)
    for i, r in enumerate(rows):
        ax.scatter(r, [i] * len(r), s=3.2, marker='s', color=RED, linewidths=0)
    return ax


def event_panel(col, top, spine, boxes, box_y, blacks, whites, bar_y, stars, xticks, lab_size):
    t0, t1 = COLS[col][0], COLS[col][1]
    ax = make_axes(col, top, spine)
    ax.set_ylim(spine, top)
    for lab, a, b in boxes:
        ax.add_patch(Rectangle((a, box_y[0]), b - a, box_y[1] - box_y[0], facecolor=BOX,
                               edgecolor='#bbbbbb', lw=0.4))
        ax.text((a + b) / 2, (box_y[0] + box_y[1]) / 2 + 0.5, lab, color='white', fontsize=8.5,
                fontweight='bold', ha='center', va='center')
    for a, b in blacks:
        ax.add_patch(Rectangle((a, bar_y[0]), b - a, bar_y[1] - bar_y[0], facecolor='#111111', edgecolor='none'))
    for a, b in whites:
        ax.add_patch(Rectangle((a, bar_y[0]), b - a, bar_y[1] - bar_y[0], facecolor='white',
                               edgecolor='#b0b0b0', lw=0.8))
    for t in stars:
        ax.text(t, box_y[0] - 0.8, '*', fontsize=11, ha='center', va='bottom', clip_on=False)
    ax.spines['bottom'].set_visible(True)
    ax.spines['bottom'].set_bounds(t0, t1)
    ax.spines['bottom'].set_linewidth(1.3)
    ax.set_xticks(xticks)
    ax.set_xticklabels([str(v) for v in xticks])
    ax.set_xticks(list(range(t0, t1 + 1, 100)), minor=True)
    ax.tick_params(axis='x', which='major', direction='out', length=5, width=1.2, pad=2, labelsize=lab_size)
    ax.tick_params(axis='x', which='minor', direction='out', length=4, width=1.0)
    return ax


# overlays (vertical event lines, delay shading)
overlay('A', TOP_VLINES, 62, 573)
overlay('B', TOP_VLINES, 60, 573)
overlay('C', BOT_VLINES, 706, 1212, shade=(DELAY_SPAN[0], DELAY_SPAN[1], 706, 1207))
overlay('D', BOT_VLINES, 709, 1211, shade=(DELAY_SPAN[0], DELAY_SPAN[1], 707, 1207))

# eye velocity panels
axA1 = eye_panel('A', 80, 240, 80,
                 [(A_EYE_RED_L_T, A_EYE_RED_L_V), (A_EYE_RED_R_T, A_EYE_RED_R_V)],
                 [(A_EYE_BLUE_L_T, A_EYE_BLUE_L_V), (A_EYE_BLUE_R_T, A_EYE_BLUE_R_V)],
                 (A_TR_L_T, A_TR_L), (A_TR_R_T, A_TR_R), A_NOISE, True)
eye_panel('B', 80, 240, 80,
          [(B_EYE_RED_L_T, B_EYE_RED_L_V), (B_EYE_RED_R_T, B_EYE_RED_R_V)],
          [(B_EYE_BLUE_L_T, B_EYE_BLUE_L_V), (B_EYE_BLUE_R_T, B_EYE_BLUE_R_V)],
          (B_TR_L_T, B_TR_L), (B_TR_R_T, B_TR_R), B_NOISE, False)
eye_panel('C', 723, 883, 706,
          [(C_EYE_RED_L_T, C_EYE_RED_L_V), (C_EYE_RED_R_T, C_EYE_RED_R_V)],
          [(C_EYE_BLUE_L_T, C_EYE_BLUE_L_V), (C_EYE_BLUE_R_T, C_EYE_BLUE_R_V)],
          (C_TR_L_T, C_TR_L), (C_TR_R_T, C_TR_R), C_NOISE, True)
eye_panel('D', 723, 883, 707,
          [(D_EYE_RED_L_T, D_EYE_RED_L_V), (D_EYE_RED_R_T, D_EYE_RED_R_V)],
          [(D_EYE_BLUE_L_T, D_EYE_BLUE_L_V), (D_EYE_BLUE_R_T, D_EYE_BLUE_R_V)],
          (D_TR_L_T, D_TR_L), (D_TR_R_T, D_TR_R), D_NOISE, False)

# direction arrow (Left / Right) in A1
axA1.annotate('', xy=(1019, 7.4), xytext=(1019, 0.1),
              arrowprops=dict(facecolor=RED, edgecolor=RED, width=2.2, headwidth=14,
                              headlength=14, shrink=0), annotation_clip=False)
axA1.annotate('', xy=(1019, -7.3), xytext=(1019, 0.1),
              arrowprops=dict(facecolor=BLUE, edgecolor=BLUE, width=2.2, headwidth=14,
                              headlength=14, shrink=0), annotation_clip=False)
axA1.text(1100, 2.9, 'Left', color=RED, rotation=90, fontsize=10.5, ha='center', va='center')
axA1.text(1100, -2.6, 'Right', color=BLUE, rotation=90, fontsize=10.5, ha='center', va='center')

# activity panels
axA2 = act_panel('A', 316, 500, (A_RED_T, A_RED_V), (A_BLUE_T, A_BLUE_V), A_ARROW_T, True)
act_panel('B', 316, 500, (B_RED_T, B_RED_V), (B_BLUE_T, B_BLUE_V), B_ARROW_T, False)
act_panel('C', 959, 1143, (C_RED_T, C_RED_V), (C_BLUE_T, C_BLUE_V), C_ARROW_T, True)
act_panel('D', 959, 1143, (D_RED_T, D_RED_V), (D_BLUE_T, D_BLUE_V), D_ARROW_T, False)

# rasters
raster_panel('A', 507, 548, A_RASTER)
raster_panel('B', 507, 548, B_RASTER)
raster_panel('C', 1150, 1192, C_RASTER)
raster_panel('D', 1150, 1192, D_RASTER)

# epochs and time axes
event_panel('A', 550, 585, A_BOXES, (557, 568), TOP_BAR_BLACK, TOP_BAR_WHITE, (571, 575), [], TOP_XTICKS, 11.5)
event_panel('B', 550, 585, B_BOXES, (557, 568), TOP_BAR_BLACK, TOP_BAR_WHITE, (571, 575), B_STARS, TOP_XTICKS, 11.5)
event_panel('C', 1190, 1225, C_BOXES, (1194, 1207), BOT_BAR_BLACK, BOT_BAR_WHITE, (1209, 1213), [], BOT_XTICKS, 12)
event_panel('D', 1190, 1225, D_BOXES, (1194, 1207), BOT_BAR_BLACK, BOT_BAR_WHITE, (1209, 1213), D_STARS, BOT_XTICKS, 12)

# legend
axA2.legend(handles=[Line2D([], [], color=RED, lw=3), Line2D([], [], color=BLUE, lw=3)],
            labels=['Preferred direction', 'Anti-preferred direction'],
            loc='upper left', bbox_to_anchor=(150 / W, 1 - 256 / H), bbox_transform=fig.transFigure,
            frameon=False, fontsize=11, handlelength=2.0, handletextpad=0.55,
            labelspacing=0.75, borderpad=0, borderaxespad=0)


def ftext(x, y, s, **kw):
    fig.text(x / W, 1 - y / H, s, **kw)


# titles and labels
ftext(380, 20, 'no-delay', fontsize=15, fontweight='bold', ha='center', va='baseline')
ftext(380, 659, 'delay', fontsize=15, fontweight='bold', ha='center', va='baseline')
ftext(209, 55, 'neutral cue', fontsize=14.5, fontweight='bold', ha='center', va='baseline')
ftext(565, 55, 'directional cue', fontsize=14.5, fontweight='bold', ha='center', va='baseline')
ftext(209, 688, 'neutral cue', fontsize=14.5, fontweight='bold', ha='center', va='baseline')
ftext(564, 688, 'directional cue', fontsize=14.5, fontweight='bold', ha='center', va='baseline')
for lab, x, y in [('A1', 29, 55), ('B1', 402, 55), ('A2', 29, 282), ('B2', 402, 282),
                  ('C1', 29, 698), ('D1', 402, 698), ('C2', 29, 933), ('D2', 402, 933)]:
    ftext(x, y, lab, fontsize=14, ha='left', va='baseline')
ftext(12, 157, 'Eye velocity (deg/s)', fontsize=13.5, rotation=90, ha='center', va='center')
ftext(12, 401, 'Average activity (sp/s)', fontsize=13.5, rotation=90, ha='center', va='center')
ftext(12, 798, 'Eye velocity (deg/s)', fontsize=13.5, rotation=90, ha='center', va='center')
ftext(12, 1045, 'Average activity (sp/s)', fontsize=13.5, rotation=90, ha='center', va='center')
ftext(190, 617, 'Time (ms)', fontsize=11.5, ha='center', va='center')
ftext(545, 617, 'Time (ms)', fontsize=11.5, ha='center', va='center')
ftext(227, 1267, 'Time (ms)', fontsize=14, ha='center', va='center')
ftext(583, 1267, 'Time (ms)', fontsize=14, ha='center', va='center')

fig.savefig('out.png', dpi=100)
